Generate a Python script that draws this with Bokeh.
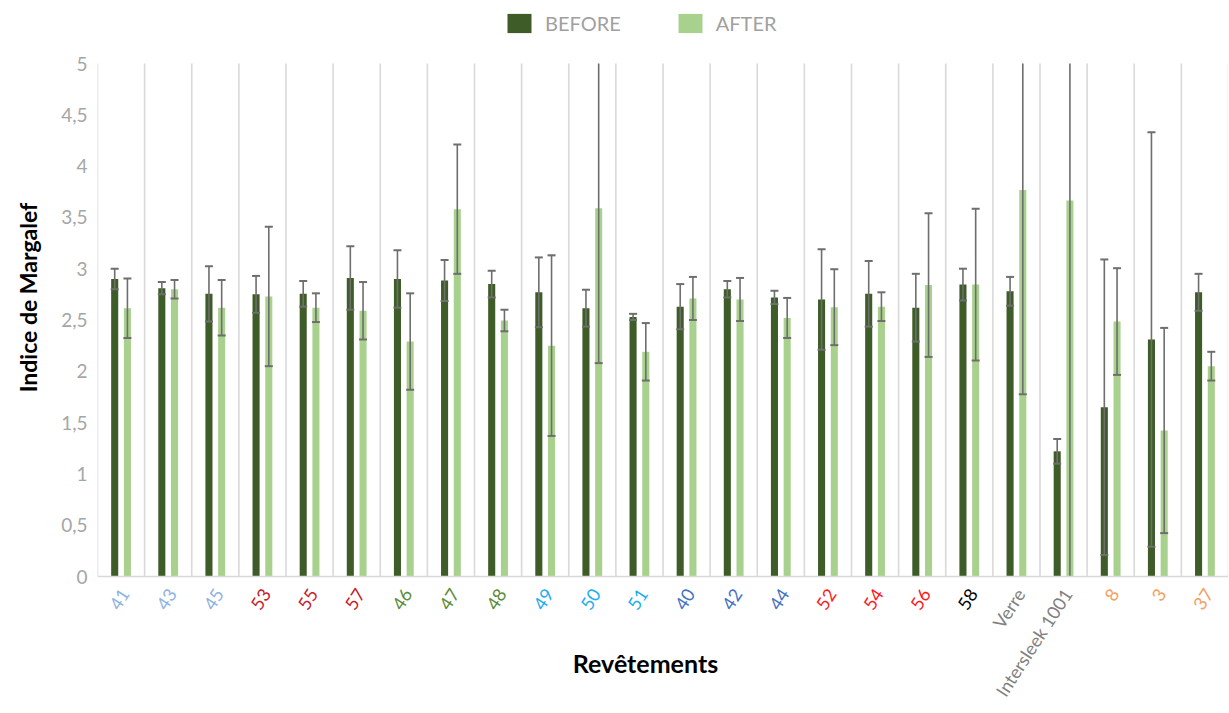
import math
from bokeh.plotting import figure
from bokeh.layouts import row
from bokeh.models import (ColumnDataSource, FactorRange, Range1d, FixedTicker,
                          Legend, LegendItem, LabelSet, Label, Span)
from bokeh.transform import dodge
from bokeh.embed import file_html
from bokeh.resources import INLINE
from bokeh.core.properties import value

categories = ["41", "43", "45", "53", "55", "57", "46", "47", "48", "49", "50", "51",
              "40", "42", "44", "52", "54", "56", "58", "Verre", "Intersleek 1001",
              "8", "3", "37"]
before = [2.90, 2.81, 2.755, 2.75, 2.755, 2.91, 2.90, 2.885, 2.85, 2.77, 2.615, 2.53,
          2.63, 2.80, 2.72, 2.70, 2.755, 2.62, 2.845, 2.78, 1.22, 1.65, 2.31, 2.77]
before_err = [0.10, 0.06, 0.27, 0.18, 0.125, 0.31, 0.28, 0.20, 0.13, 0.34, 0.18, 0.03,
              0.22, 0.08, 0.065, 0.49, 0.32, 0.33, 0.155, 0.14, 0.12, 1.44, 2.02, 0.18]
after = [2.615, 2.80, 2.62, 2.73, 2.62, 2.59, 2.29, 3.58, 2.495, 2.25, 3.59, 2.19,
         2.71, 2.70, 2.52, 2.625, 2.63, 2.84, 2.845, 3.766, 3.665, 2.485, 1.423, 2.05]
after_err = [0.29, 0.09, 0.27, 0.68, 0.14, 0.28, 0.47, 0.63, 0.105, 0.88, 1.51, 0.28,
             0.21, 0.21, 0.195, 0.37, 0.14, 0.70, 0.74, 1.99, 3.9, 0.52, 1.0, 0.14]
label_colors = (["#8DB4E2"] * 3 + ["#C8202A"] * 3 + ["#5B8C35"] * 3 + ["#1AAEF0"] * 3 +
                ["#4472C4"] * 3 + ["#FF1A1A"] * 3 + ["#000000"] + ["#808080"] * 2 +
                ["#F4A060"] * 3)
y_ticks = [0, 0.5, 1, 1.5, 2, 2.5, 3, 3.5, 4, 4.5, 5]
y_tick_labels = ["0", "0,5", "1", "1,5", "2", "2,5", "3", "3,5", "4", "4,5", "5"]
Y_MAX = 5

FONT = "Lato"
DARK = "#3D5C27"
LIGHT = "#A9D18E"
ERR = "#6E6E6E"
NAN = float("nan")

# layout (pixels): plot area for values 0..5 spans page y 63..576, x from 97
W, H = 1228, 712
LEFT = 97
TITLE_W = 56          # narrow strip holding the y-axis title
TOP5, BASE0 = 63, 576
ppu = (BASE0 - TOP5) / Y_MAX
y_hi = Y_MAX + TOP5 / ppu
y_lo = -(H - BASE0) / ppu


def lo_hi(vals, errs):
    lo = [max(v - e, 0) for v, e in zip(vals, errs)]
    hi = [min(v + e, Y_MAX) for v, e in zip(vals, errs)]
    lo_cap = [v - e if v - e >= 0 else NAN for v, e in zip(vals, errs)]
    hi_cap = [v + e if v + e <= Y_MAX else NAN for v, e in zip(vals, errs)]
    return lo, hi, lo_cap, hi_cap


b_lo, b_hi, b_loc, b_hic = lo_hi(before, before_err)
a_lo, a_hi, a_loc, a_hic = lo_hi(after, after_err)

src = ColumnDataSource(dict(
    cat=categories, before=before, after=after,
    b_lo=b_lo, b_hi=b_hi, b_loc=b_loc, b_hic=b_hic,
    a_lo=a_lo, a_hi=a_hi, a_loc=a_loc, a_hic=a_hic,
    zero=[0] * len(categories), lcol=label_colors,
))

yr = Range1d(y_lo, y_hi)
p = figure(width=W - TITLE_W, height=H, output_backend="svg", toolbar_location=None,
           x_range=FactorRange(*categories, range_padding=0, factor_padding=0),
           y_range=yr, min_border_left=LEFT - TITLE_W, min_border_right=0,
           min_border_top=0, min_border_bottom=0)
p.outline_line_color = None
p.background_fill_color = "white"
p.grid.grid_line_color = None
p.xaxis.visible = False

# vertical separators at category boundaries
nb = len(categories) + 1
p.segment(x0=list(range(nb)), y0=[0] * nb, x1=list(range(nb)), y1=[Y_MAX] * nb,
          line_color="#D9D9D9", line_width=1.6)
p.add_layout(Span(location=0, dimension="width", line_color="#D9D9D9", line_width=1.6))

off = 0.135
bw = 0.15
rb = p.vbar(x=dodge("cat", -off, range=p.x_range), top="before", width=bw, source=src,
            fill_color=DARK, line_color=None)
ra = p.vbar(x=dodge("cat", off, range=p.x_range), top="after", width=bw, source=src,
            fill_color=LIGHT, line_color=None)

for o, pre in ((-off, "b_"), (off, "a_")):
    xx = dodge("cat", o, range=p.x_range)
    p.segment(x0=xx, y0=pre + "lo", x1=xx, y1=pre + "hi", source=src,
              line_color=ERR, line_width=1.6)
    p.scatter(x=xx, y=pre + "hic", source=src, marker="dash", size=8,
              line_color=ERR, line_width=2)
    p.scatter(x=xx, y=pre + "loc", source=src, marker="dash", size=8,
              line_color=ERR, line_width=2)

# y axis
p.yaxis.bounds = (0, Y_MAX)
p.yaxis.ticker = FixedTicker(ticks=y_ticks)
p.yaxis.major_label_overrides = {t: l for t, l in zip(y_ticks, y_tick_labels)}
p.yaxis.axis_line_color = None
p.yaxis.major_tick_line_color = None
p.yaxis.major_tick_out = 0
p.yaxis.major_tick_in = 0
p.yaxis.minor_tick_line_color = None
p.yaxis.major_label_text_color = "#A6A6A6"
p.yaxis.major_label_text_font = FONT
p.yaxis.major_label_text_font_size = "19px"
p.yaxis.major_label_standoff = 10

# coloured, rotated category labels
labels = LabelSet(x="cat", y="zero", text="cat", source=src, x_offset=4, y_offset=-14,
                  angle=math.radians(57), text_align="right", text_baseline="middle",
                  text_color="lcol", text_font=value(FONT), text_font_size="18px")
p.add_layout(labels)

# x axis title
p.add_layout(Label(x=(645 - LEFT) / ((W - LEFT) / len(categories)), y=-(662 - BASE0) / ppu,
                   text="Revêtements", text_align="center", text_baseline="middle",
                   text_font=FONT, text_font_style="bold", text_font_size="25px",
                   text_color="black"))

legend = Legend(items=[LegendItem(label="BEFORE", renderers=[rb]),
                       LegendItem(label="AFTER", renderers=[ra])],
                orientation="horizontal", location=(504 - LEFT, H - 35),
                glyph_width=30, glyph_height=24, label_standoff=11, spacing=54,
                padding=0, margin=0, border_line_color=None, background_fill_alpha=0,
                label_text_font=FONT, label_text_font_size="20px",
                label_text_color="#A0A0A0")
p.add_layout(legend, "center")

# y axis title strip (centred a little above the middle, like the original)
t = figure(width=TITLE_W, height=H, output_backend="svg", toolbar_location=None,
           x_range=Range1d(0, TITLE_W), y_range=yr, min_border=0)
t.axis.visible = False
t.grid.grid_line_color = None
t.outline_line_color = None
t.add_layout(Label(x=27, y=(BASE0 - 297) / ppu, angle=math.pi / 2,
                   text="Indice de Margalef", text_align="center", text_baseline="middle",
                   text_font=FONT, text_font_style="bold", text_font_size="23px",
                   text_color="black"))

open("out.html", "w").write(file_html(row(t, p, spacing=0), INLINE))
